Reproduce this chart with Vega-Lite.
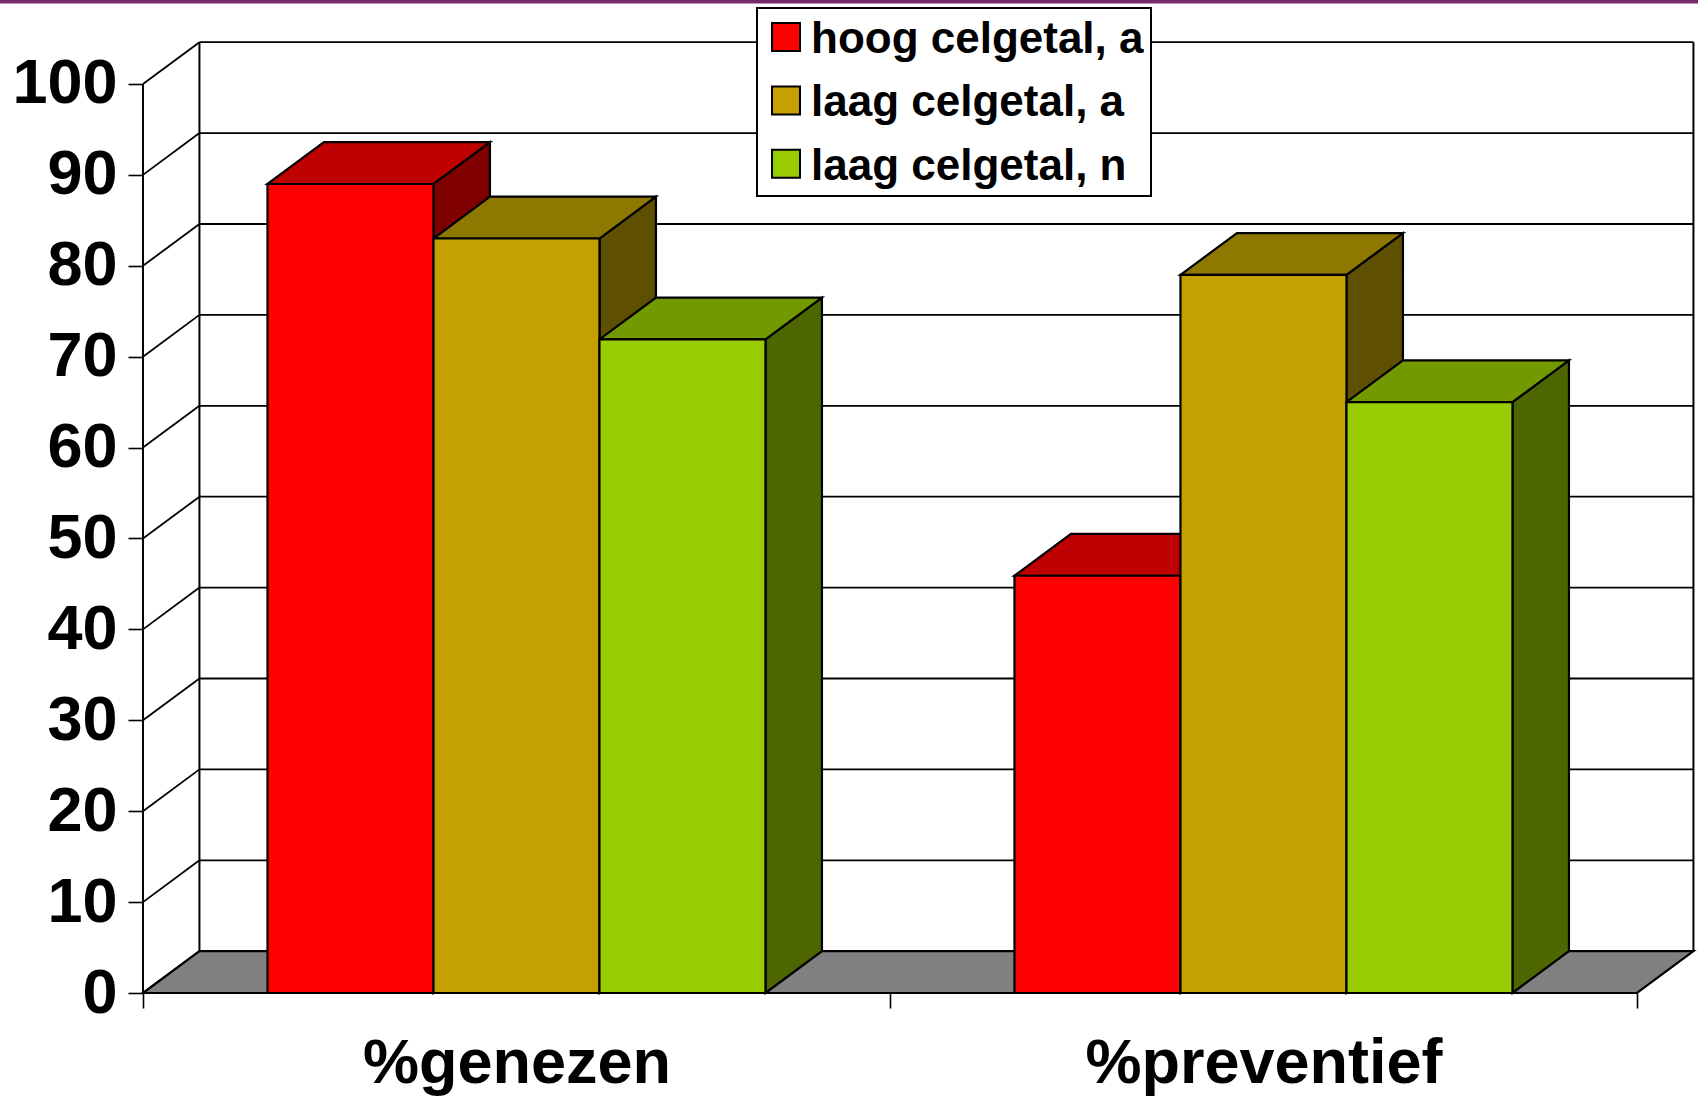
{
"$schema":"https://vega.github.io/schema/vega-lite/v6.json",
"width":1698,"height":993,
"autosize":{"type":"none"},
"padding":{"left":0,"top":0,"right":0,"bottom":103},
"background":"white",
"view":{"stroke":null},
"config":{"font":"Liberation Sans"},
"datasets":{
"bars":[
{"group":"%genezen","series":"hoog celgetal, a","value":89},
{"group":"%genezen","series":"laag celgetal, a","value":83},
{"group":"%genezen","series":"laag celgetal, n","value":71.9},
{"group":"%preventief","series":"hoog celgetal, a","value":45.9},
{"group":"%preventief","series":"laag celgetal, a","value":79},
{"group":"%preventief","series":"laag celgetal, n","value":65}
],
"ticks":[{"tick":0},{"tick":10},{"tick":20},{"tick":30},{"tick":40},{"tick":50},{"tick":60},{"tick":70},{"tick":80},{"tick":90},{"tick":100}]
},
"layer":[
{"data":{"values":[{"a":-0.1914,"b":2.0817,"lo":108.85,"hi":109.24}]},
"mark":{"type":"rect","fill":"#772A6E"},
"encoding":{
"x":{"field":"a","type":"quantitative","title":null,"scale":{"domain":[-0.1914,2.0817],"nice":false,"zero":false},
"axis":{"values":[0,0.5,1,1.5,2],"grid":false,"domain":false,"title":null,"tickSize":15,"tickWidth":1.6,"tickColor":"black",
"tickOpacity":{"condition":{"test":"datum.value==0.5||datum.value==1.5","value":0},"value":1},
"labelExpr":"datum.value==0.5?'%genezen':datum.value==1.5?'%preventief':''","labelFontSize":63,"labelFontWeight":"bold","labelColor":"black","labelPadding":24,"labelBaseline":"top","labelFlush":false,"labelOverlap":false,"labelBound":false,"labelLimit":0}},
"x2":{"field":"b"},
"y":{"field":"lo","type":"quantitative","title":null,"scale":{"domain":[0,109.24],"nice":false,"zero":false},
"axis":{"values":[0,10,20,30,40,50,60,70,80,90,100],"grid":false,"domain":false,"title":null,"offset":-143,"tickSize":15,"tickWidth":1.6,"tickColor":"black","labelFontSize":63,"labelFontWeight":"bold","labelColor":"black","labelPadding":11,"labelOverlap":false,"labelFlush":false,"labelBound":false}},
"y2":{"field":"hi"}}},
{"data":{"name":"ticks"},
"transform":[{"calculate":"0.0756","as":"b0"},{"calculate":"2.0756","as":"b1"},{"calculate":"datum.tick+4.6","as":"by"}],
"mark":{"type":"rule","stroke":"black","strokeWidth":1.8},
"encoding":{"x":{"field":"b0","type":"quantitative","title":null},"x2":{"field":"b1"},"y":{"field":"by","type":"quantitative","title":null},"y2":{"field":"by"}}},
{"data":{"name":"ticks"},
"transform":[{"calculate":"0","as":"f0"},{"calculate":"0.0756","as":"b0"},{"calculate":"datum.tick+4.6","as":"by"}],
"mark":{"type":"rule","stroke":"black","strokeWidth":1.8},
"encoding":{"x":{"field":"f0","type":"quantitative","title":null},"x2":{"field":"b0"},"y":{"field":"tick","type":"quantitative","title":null},"y2":{"field":"by"}}},
{"data":{"values":[{"xv":0,"lo":0,"hi":100},{"xv":0.0756,"lo":4.6,"hi":104.6},{"xv":2.0756,"lo":4.6,"hi":104.6}]},
"mark":{"type":"rule","stroke":"black","strokeWidth":2},
"encoding":{"x":{"field":"xv","type":"quantitative","title":null},"y":{"field":"lo","type":"quantitative","title":null},"y2":{"field":"hi"}}},
{"data":{"values":[{"xv":0,"lo":0,"hi":0},{"xv":0.0756,"lo":0,"hi":4.6},{"xv":2,"lo":0,"hi":4.6},{"xv":2.0756,"lo":4.6,"hi":4.6}]},
"mark":{"type":"area","orient":"vertical","fill":"#808080","stroke":"black","strokeWidth":2.2},
"encoding":{"x":{"field":"xv","type":"quantitative","title":null},"y":{"field":"lo","type":"quantitative","title":null},"y2":{"field":"hi"}}},
{"data":{"name":"bars"},
"transform":[
{"calculate":"indexof(['%genezen','%preventief'],datum.group)+1/6+indexof(['hoog celgetal, a','laag celgetal, a','laag celgetal, n'],datum.series)*2/9","as":"x0"},
{"calculate":"[0,1]","as":"t"},{"flatten":["t"]},
{"calculate":"datum.x0+2/9+datum.t*0.0756","as":"px"},
{"calculate":"datum.t*4.6","as":"lo"},
{"calculate":"datum.value+datum.t*4.6","as":"hi"}],
"mark":{"type":"area","orient":"vertical","stroke":"black","strokeWidth":2.2},
"encoding":{
"x":{"field":"px","type":"quantitative","title":null},
"y":{"field":"lo","type":"quantitative","title":null},"y2":{"field":"hi"},
"detail":{"field":"group"},
"fill":{"field":"series","type":"nominal","legend":null,"scale":{"domain":["hoog celgetal, a","laag celgetal, a","laag celgetal, n"],"range":["#800000","#5E5000","#4D6600"]}}}},
{"data":{"name":"bars"},
"transform":[
{"calculate":"indexof(['%genezen','%preventief'],datum.group)+1/6+indexof(['hoog celgetal, a','laag celgetal, a','laag celgetal, n'],datum.series)*2/9","as":"x0"},
{"calculate":"[0,1,2,3]","as":"t"},{"flatten":["t"]},
{"calculate":"datum.x0+(datum.t==1?0.0756:datum.t==2?2/9:datum.t==3?2/9+0.0756:0)","as":"px"},
{"calculate":"datum.value+(datum.t==3?4.6:0)","as":"lo"},
{"calculate":"datum.value+(datum.t==0?0:4.6)","as":"hi"}],
"mark":{"type":"area","orient":"vertical","stroke":"black","strokeWidth":2.2},
"encoding":{
"x":{"field":"px","type":"quantitative","title":null},
"y":{"field":"lo","type":"quantitative","title":null},"y2":{"field":"hi"},
"detail":{"field":"group"},
"fill":{"field":"series","type":"nominal","legend":null,"scale":{"domain":["hoog celgetal, a","laag celgetal, a","laag celgetal, n"],"range":["#BF0000","#8F7800","#739900"]}}}},
{"data":{"name":"bars"},
"transform":[
{"calculate":"indexof(['%genezen','%preventief'],datum.group)+1/6+indexof(['hoog celgetal, a','laag celgetal, a','laag celgetal, n'],datum.series)*2/9","as":"x0"},
{"calculate":"datum.x0+2/9","as":"x1"}],
"mark":{"type":"rect","stroke":"black","strokeWidth":2.2},
"encoding":{
"x":{"field":"x0","type":"quantitative","title":null},"x2":{"field":"x1"},
"y":{"field":"value","type":"quantitative","title":null},"y2":{"datum":0},
"fill":{"field":"series","type":"nominal","scale":{"domain":["hoog celgetal, a","laag celgetal, a","laag celgetal, n"],"range":["#FF0000","#C4A000","#99CC00"]},
"legend":{"orient":"none","legendX":757,"legendY":8,"title":null,"fillColor":"white","strokeColor":"black","padding":7,"symbolType":"square","symbolSize":784,"symbolStrokeColor":"black","symbolStrokeWidth":2,"labelFontSize":44,"labelFontWeight":"bold","labelColor":"black","labelLimit":400,"rowPadding":16.4,"labelOffset":3,"columns":1,"encode":{"legend":{"update":{"strokeWidth":{"value":2}}},"labels":{"update":{"dy":{"value":3}}}}}}}}
],
"resolve":{"scale":{"fill":"independent"},"legend":{"fill":"independent"}}
}
